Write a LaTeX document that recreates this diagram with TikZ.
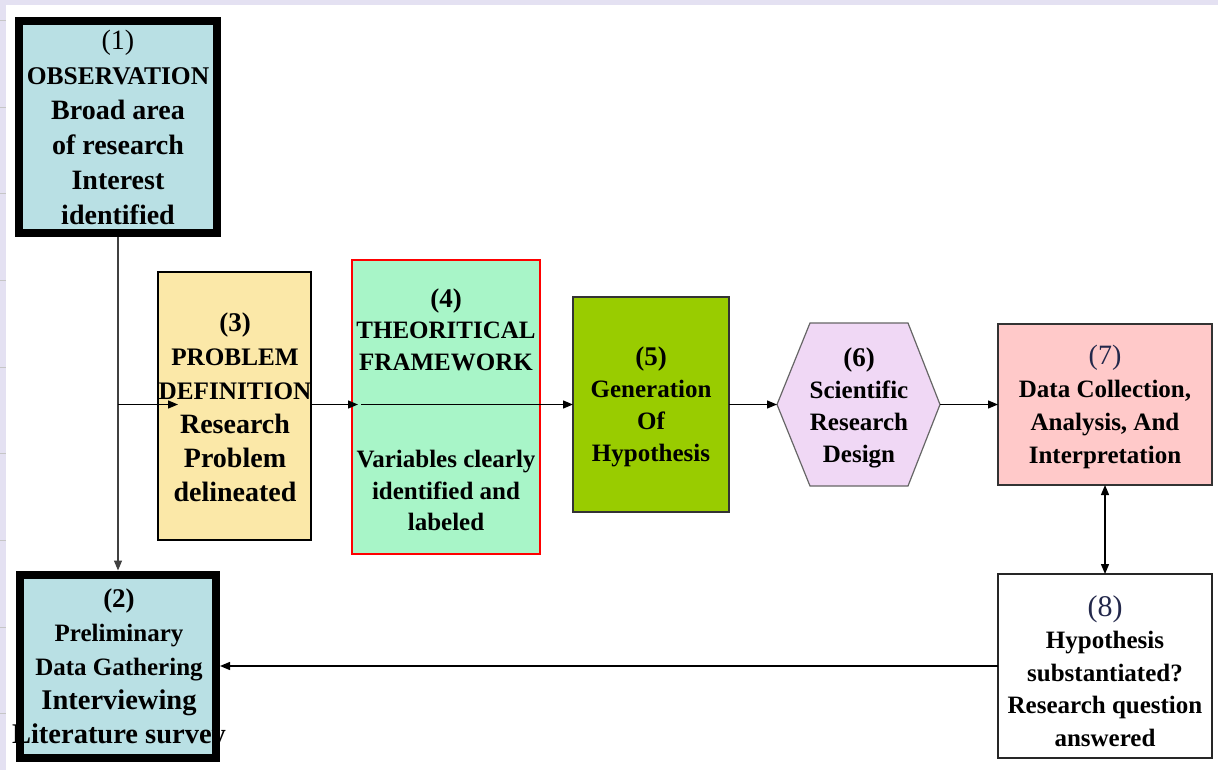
\documentclass[tikz,border=0pt]{standalone}
\usepackage{fontspec}
\setmainfont{Liberation Serif}
\usetikzlibrary{arrows.meta,calc}
\definecolor{bgl}{RGB}{228,225,242}
\definecolor{cyanbox}{RGB}{185,224,228}
\definecolor{yelbox}{RGB}{251,232,168}
\definecolor{grnbox}{RGB}{168,245,200}
\definecolor{limebox}{RGB}{153,204,0}
\definecolor{lavbox}{RGB}{240,216,245}
\definecolor{pinkbox}{RGB}{255,201,201}
\definecolor{navy}{RGB}{35,40,75}
\newcommand{\setfs}[2]{\fontsize{#1}{#2}\selectfont}
\begin{document}
\begin{tikzpicture}[x=1pt,y=-1pt,
  box/.style={draw, rectangle, inner sep=0pt, outer sep=0pt, line width=1.2pt},
  thickbox/.style={box, fill=cyanbox, line width=8pt, outer sep=4pt},
  txt/.style={inner sep=0pt, align=center},
  conn/.style={line width=1.3pt, -{Triangle[length=10pt,width=8pt]}},
  dconn/.style={line width=1.3pt, {Triangle[length=10pt,width=8pt]}-{Triangle[length=10pt,width=8pt]}},
]
\useasboundingbox (0,0) rectangle (1218,770);
\fill[bgl] (0,0) rectangle (1218,770);
\fill[white] (6,5) rectangle (1218,770);
\foreach \y in {20,107,193,280,367,453,540,627,713}
  \draw[gray!45, line width=0.8pt] (0,\y) -- (6,\y);

% boxes
\node[thickbox, minimum width=198pt, minimum height=212pt] (b1) at (118,127) {};
\node[thickbox, minimum width=196pt, minimum height=183pt] (b2) at (118,666) {};
\node[box, fill=yelbox, minimum width=153pt, minimum height=268pt] (b3) at (234.5,406) {};
\node[box, fill=grnbox, draw=red, line width=1.6pt, minimum width=188pt, minimum height=294pt] (b4) at (446,407) {};
\node[box, fill=limebox, draw=black!80, minimum width=156pt, minimum height=215pt] (b5) at (651,404.5) {};
\node[inner sep=0pt, outer sep=0pt, minimum width=163pt, minimum height=163pt] (b6) at (858.5,404.5) {};
\draw[fill=lavbox, draw=black!60, line width=1.2pt]
  (b6.west) -- ($(b6.north west)+(33,0)$) -- ($(b6.north east)+(-32,0)$) -- (b6.east)
  -- ($(b6.south east)+(-32,0)$) -- ($(b6.south west)+(33,0)$) -- cycle;
\node[box, fill=pinkbox, draw=black!80, minimum width=214pt, minimum height=161pt] (b7) at (1105,404.5) {};
\node[box, fill=white, draw=black!85, minimum width=214pt, minimum height=184pt] (b8) at (1105,666) {};

% texts
\node[txt, font=\setfs{28}{35}\bfseries] (t1) at (118,127)
  {\setfs{28}{35}\mdseries (1)\\ \setfs{25.5}{35}\bfseries OBSERVATION\\ \setfs{28}{35}\bfseries Broad area\\ \setfs{28}{35}\bfseries of research\\ \setfs{28}{35}\bfseries Interest\\ \setfs{28}{35}\bfseries identified};
\node[txt, font=\setfs{25}{34}\bfseries] (t2) at (119,669)
  {\setfs{27}{34}\bfseries (2)\\ \setfs{25}{34}\bfseries Preliminary\\ \setfs{25}{34}\bfseries Data Gathering\\ \setfs{28.5}{34}\bfseries Interviewing\\ \setfs{28.5}{34}\bfseries Literature survey};
\node[txt, font=\setfs{28}{34}\bfseries] (t3) at (235,407)
  {\setfs{27}{34}\bfseries (3)\\ \setfs{25.2}{34}\bfseries PROBLEM\\ \setfs{25.2}{34}\bfseries DEFINITION\\ \setfs{28}{34}\bfseries Research\\ \setfs{28}{34}\bfseries Problem\\ \setfs{28}{34}\bfseries delineated};
\node[txt, font=\setfs{25}{31.5}\bfseries] (t4) at (446,410)
  {\setfs{27}{31.5}\bfseries (4)\\ \setfs{25}{31.5}\bfseries THEORITICAL\\ \setfs{25}{31.5}\bfseries FRAMEWORK\\[66pt] \setfs{25}{31.5}\bfseries Variables clearly\\ \setfs{25}{31.5}\bfseries identified and\\ \setfs{25}{31.5}\bfseries labeled};
\node[txt, font=\setfs{25}{32}\bfseries] (t5) at (651,407)
  {\setfs{27}{32}\bfseries (5)\\ \setfs{25}{32}\bfseries Generation\\ \setfs{25}{32}\bfseries Of\\ \setfs{25}{32}\bfseries Hypothesis};
\node[txt, font=\setfs{25}{32}\bfseries] (t6) at (859,407.5)
  {\setfs{27}{32}\bfseries (6)\\ \setfs{25}{32}\bfseries Scientific\\ \setfs{25}{32}\bfseries Research\\ \setfs{25}{32}\bfseries Design};
\node[txt, font=\setfs{25}{33}\bfseries] (t7) at (1105,407)
  {\setfs{28}{33}\mdseries\color{navy}(7)\\ \setfs{25}{33}\bfseries Data Collection,\\ \setfs{25}{33}\bfseries Analysis, And\\ \setfs{25}{33}\bfseries Interpretation};
\node[txt, font=\setfs{25}{32.5}\bfseries] (t8) at (1105,671)
  {\setfs{30}{32.5}\mdseries\color{navy}(8)\\ \setfs{25}{32.5}\bfseries Hypothesis\\ \setfs{25}{32.5}\bfseries substantiated?\\ \setfs{25}{32.5}\bfseries Research question\\ \setfs{25}{32.5}\bfseries answered};

% connectors
\coordinate (row) at (0,404.5);
\coordinate (j) at (b1.south |- row);
\coordinate (j3) at ($(b3.west |- row)+(20,0)$);
\coordinate (j4) at ($(b4.west |- row)+(6,0)$);
\coordinate (s4) at ($(b4.west |- row)+(9,0)$);
\draw[conn, black!75] (b1.south) -- (b2.north);
\draw[conn] (j) -- (j3);
\draw[conn] (b3.east |- row) -- (j4);
\draw[conn] (s4) -- (b5.west |- row);
\draw[conn] (b5.east |- row) -- (b6.west);
\draw[conn] (b6.east) -- (b7.west |- row);
\draw[dconn] (b7.south) -- (b8.north);
\draw[conn] (b8.west) -- (b2.east);
\end{tikzpicture}
\end{document}
